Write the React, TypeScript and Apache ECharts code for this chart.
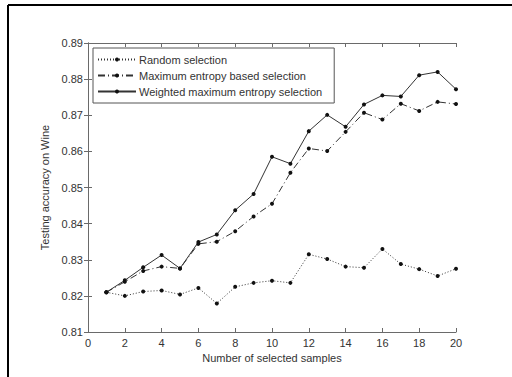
import React, { useEffect, useRef } from "react";
import * as echarts from "echarts";

const xValues = [1, 2, 3, 4, 5, 6, 7, 8, 9, 10, 11, 12, 13, 14, 15, 16, 17, 18, 19, 20];
const randomSel = [0.8210, 0.8200, 0.8212, 0.8215, 0.8204, 0.8222, 0.8179, 0.8225, 0.8236, 0.8242, 0.8236, 0.8315, 0.8302, 0.8281, 0.8278, 0.8330, 0.8288, 0.8274, 0.8255, 0.8275];
const maxEntropySel = [0.8210, 0.8239, 0.8269, 0.8281, 0.8276, 0.8344, 0.8350, 0.8379, 0.8420, 0.8455, 0.8541, 0.8608, 0.8601, 0.8654, 0.8707, 0.8688, 0.8732, 0.8712, 0.8737, 0.8731];
const weightedSel = [0.8210, 0.8243, 0.8279, 0.8313, 0.8276, 0.8349, 0.8370, 0.8437, 0.8482, 0.8585, 0.8566, 0.8656, 0.8701, 0.8668, 0.8730, 0.8755, 0.8752, 0.8811, 0.8820, 0.8772];
const seriesNames = ["Random selection", "Maximum entropy based selection", "Weighted maximum entropy selection"];

const FONT = "'Liberation Sans', Arial, sans-serif";
const AXIS_COLOR = "#6a6a6a";
const TEXT_COLOR = "#333";

export default function App() {
  const ref = useRef<HTMLDivElement>(null);
  useEffect(() => {
    if (!ref.current) return;
    const chart = echarts.init(ref.current, undefined, { renderer: "svg" });
    const pairs = (arr: number[]) => arr.map((v, i) => [xValues[i], v]);
    const mk = (name: string, data: number[], type: any) => ({
      name,
      type: "line",
      data: pairs(data),
      symbol: "circle",
      symbolSize: 4,
      itemStyle: { color: "#111" },
      lineStyle: { color: "#333", width: 1, type },
      emphasis: { disabled: true },
    });
    const axisCommon = {
      type: "value" as const,
      axisLine: { show: true, lineStyle: { color: AXIS_COLOR, width: 1 } },
      axisTick: { show: true, inside: true, length: 4, lineStyle: { color: AXIS_COLOR } },
      splitLine: { show: false },
    };
    chart.setOption({
      animation: false,
      textStyle: { fontFamily: FONT },
      grid: { left: 88, right: 56, top: 43, bottom: 45, containLabel: false },
      xAxis: [
        {
          ...axisCommon,
          min: 0,
          max: 20,
          interval: 2,
          position: "bottom",
          name: "Number of selected samples",
          nameLocation: "middle",
          nameGap: 19,
          nameTextStyle: { fontSize: 11, color: TEXT_COLOR, fontFamily: FONT },
          axisLabel: { fontSize: 11, color: TEXT_COLOR, margin: 5, fontFamily: FONT },
        },
        {
          ...axisCommon,
          min: 0,
          max: 20,
          interval: 2,
          position: "top",
          axisLabel: { show: false },
        },
      ],
      yAxis: [
        {
          ...axisCommon,
          min: 0.81,
          max: 0.89,
          interval: 0.01,
          position: "left",
          name: "Testing accuracy on Wine",
          nameLocation: "middle",
          nameGap: 31,
          nameTextStyle: { fontSize: 11, color: TEXT_COLOR, fontFamily: FONT },
          axisLabel: {
            fontSize: 11,
            color: TEXT_COLOR,
            margin: 5,
            fontFamily: FONT,
            formatter: (v: number) => v.toFixed(2),
          },
        },
        {
          ...axisCommon,
          min: 0.81,
          max: 0.89,
          interval: 0.01,
          position: "right",
          axisLabel: { show: false },
        },
      ],
      legend: {
        orient: "vertical",
        left: 93,
        top: 48,
        padding: [5, 12, 5, 4],
        itemGap: 3,
        itemWidth: 38,
        itemHeight: 5,
        borderColor: "#555",
        borderWidth: 1,
        backgroundColor: "#fff",
        data: seriesNames,
        textStyle: { fontSize: 11, color: TEXT_COLOR, fontFamily: FONT, lineHeight: 13, padding: [0, 0, 0, -2] },
      },
      graphic: [
        { type: "line", shape: { x1: 8, y1: 5, x2: 512, y2: 5 }, style: { stroke: "#000", lineWidth: 2 } },
        { type: "line", shape: { x1: 8, y1: 5, x2: 8, y2: 377 }, style: { stroke: "#000", lineWidth: 2 } },
      ],
      series: [
        mk(seriesNames[0], randomSel, [1, 2]),
        mk(seriesNames[1], maxEntropySel, [7, 3, 1, 3]),
        mk(seriesNames[2], weightedSel, "solid"),
      ],
    });
    return () => chart.dispose();
  }, []);
  return <div ref={ref} style={{ width: 512, height: 377, position: "fixed", left: 0, top: 0, background: "#fff" }} />;
}
